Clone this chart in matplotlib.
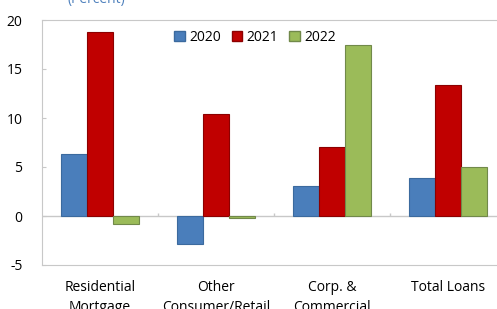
import matplotlib.pyplot as plt
import numpy as np
from matplotlib.patches import Patch

categories = ["Residential\nMortgage", "Other\nConsumer/Retail", "Corp. &\nCommercial", "Total Loans"]
years = ["2020", "2021", "2022"]
v2020 = [6.3, -2.9, 3.1, 3.9]
v2021 = [18.8, 10.4, 7.0, 13.4]
v2022 = [-0.8, -0.2, 17.5, 5.0]
colors = ["#4a7ebb", "#c00000", "#9bbb59"]
edges = ["#3b6a9e", "#8c0000", "#71894a"]

plt.rcParams['font.family'] = ['Open Sans', 'DejaVu Sans']
plt.rcParams['axes.unicode_minus'] = False

fig = plt.figure(figsize=(4.97, 3.09), dpi=100)
ax = fig.add_axes([42/497, 1 - 265/309, 464/497, 245/309])

x = np.arange(len(categories))
w = 0.225
for i, vals in enumerate([v2020, v2021, v2022]):
    ax.bar(x + (i - 1) * w, vals, w, color=colors[i], edgecolor=edges[i], linewidth=0.8, zorder=2)

ax.axhline(0, color="#c8c8c8", linewidth=1, zorder=1)
ax.vlines(x[:-1] + 0.5, 0, 0.3, color="#c8c8c8", linewidth=1)

ax.set_xlim(-0.5, len(categories) - 0.5)
ax.set_ylim(-5, 20)
ax.set_yticks([-5, 0, 5, 10, 15, 20])
ax.tick_params(axis="y", direction="in", length=3, color="#c8c8c8", labelsize=10, pad=14)
ax.set_xticks(x)
ax.set_xticklabels(categories, fontsize=10, linespacing=1.45)
ax.tick_params(axis="x", length=0, pad=11)
for s in ax.spines.values():
    s.set_color("#c8c8c8")

handles = [Patch(facecolor=colors[i], edgecolor=edges[i], label=years[i]) for i in range(3)]
fig.legend(handles=handles, loc="center", bbox_to_anchor=(0.513, 0.88), ncol=3, frameon=False,
           handlelength=0.75, handleheight=0.75, handletextpad=0.3, columnspacing=0.8, fontsize=10)

fig.text(0.135, 1.0, "(Percent)", color="#4f81bd", fontsize=10, va="center")

fig.savefig("out.png", dpi=100)
